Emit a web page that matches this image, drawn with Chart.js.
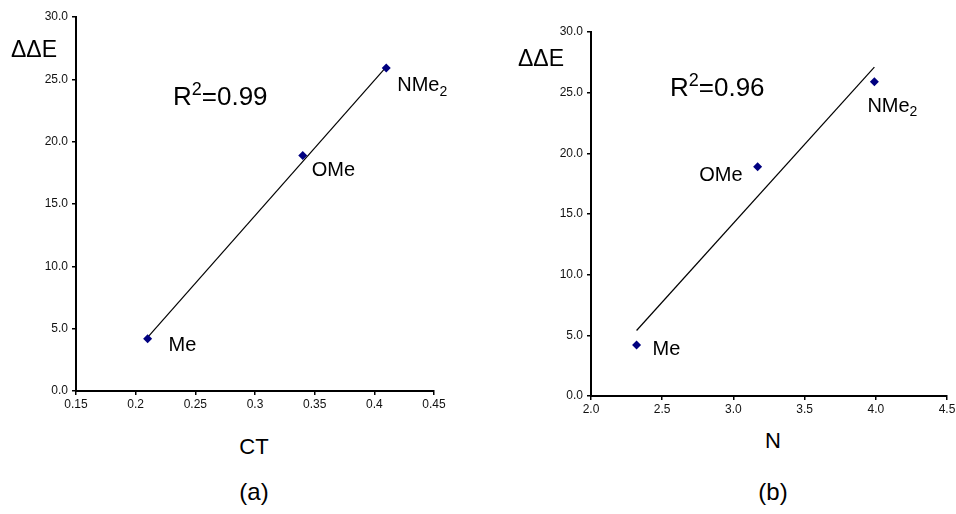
<!DOCTYPE html>
<html>
<head>
<meta charset="utf-8">
<script src="https://cdn.jsdelivr.net/npm/chart.js@4.4.1/dist/chart.umd.min.js"></script>
<style>
  body { margin: 0; background: #fff; width: 956px; height: 514px; position: relative; overflow: hidden; font-family: "Liberation Sans", Arial, sans-serif; }
  .box { position: absolute; }
  .cap { position: absolute; color: #000; transform: translate(-50%, -50%); white-space: nowrap; }
</style>
</head>
<body>
<div class="box" style="left:0;top:0;width:460px;height:420px"><canvas id="chartA"></canvas></div>
<div class="box" style="left:480px;top:0;width:476px;height:420px"><canvas id="chartB"></canvas></div>
<div class="cap" style="left:254px;top:447px;font-size:22px">CT</div>
<div class="cap" style="left:254px;top:492px;font-size:24px">(a)</div>
<div class="cap" style="left:773px;top:441px;font-size:22px">N</div>
<div class="cap" style="left:773px;top:492px;font-size:24px">(b)</div>
<script>
// data
const groups = ['Me', 'OMe', 'NMe2'];
const ctValues = [0.21, 0.34, 0.41];
const nValues = [2.32, 3.17, 3.99];
const ddE = [4.2, 18.9, 25.9];

// trend lines (end points)
const fitAx = [0.21, 0.41];
const fitAy = [4.3, 26.0];
const fitBx = [2.32, 3.99];
const fitBy = [5.4, 27.1];

const r2A = '0.99';
const r2B = '0.96';

// tick labels
const yTicks = [0, 5, 10, 15, 20, 25, 30];
const yTickLabels = ['0.0', '5.0', '10.0', '15.0', '20.0', '25.0', '30.0'];
const xTicksA = [0.15, 0.2, 0.25, 0.3, 0.35, 0.4, 0.45];
const xTickLabelsA = ['0.15', '0.2', '0.25', '0.3', '0.35', '0.4', '0.45'];
const xTicksB = [2.0, 2.5, 3.0, 3.5, 4.0, 4.5];
const xTickLabelsB = ['2.0', '2.5', '3.0', '3.5', '4.0', '4.5'];

const FONT = '"Liberation Sans", Arial, sans-serif';

function drawSub(ctx, x, y, main, sub, size, up) {
    ctx.font = size + 'px ' + FONT;
    ctx.fillText(main, x, y);
    let w = ctx.measureText(main).width;
    ctx.font = Math.round(size * 0.68) + 'px ' + FONT;
    ctx.fillText(sub, x + w, up ? y - size * 0.38 : y + size * 0.22);
    return w + ctx.measureText(sub).width;
}

function makeChart(id, xs, fitX, fitY, xTicks, xLabels, xMin, xMax, opts) {
    const labelPlugin = {
        id: 'labels' + id,
        afterDatasetsDraw(chart) {
            const ctx = chart.ctx;
            const sx = chart.scales.x, sy = chart.scales.y;
            ctx.save();
            ctx.fillStyle = '#000';
            ctx.textBaseline = 'alphabetic';
            groups.forEach((g, i) => {
                const px = sx.getPixelForValue(xs[i]);
                const py = sy.getPixelForValue(ddE[i]);
                const off = opts.offsets[i];
                ctx.font = '20px ' + FONT;
                let x = px + off[0];
                if (g === 'NMe2') {
                    ctx.textAlign = 'left';
                    drawSub(ctx, x, py + off[1], 'NMe', '2', 20, false);
                } else {
                    ctx.textAlign = off[2] || 'left';
                    ctx.fillText(g, x, py + off[1]);
                }
            });
            ctx.textAlign = 'left';
            // R^2 text
            let w = drawSub(ctx, opts.r2Pos[0], opts.r2Pos[1], 'R', '2', 26, true);
            ctx.font = '26px ' + FONT;
            ctx.fillText('=' + opts.r2, opts.r2Pos[0] + w, opts.r2Pos[1]);
            // axis title
            ctx.font = '23px ' + FONT;
            ctx.fillText('\u0394\u0394E', opts.yTitlePos[0], opts.yTitlePos[1]);
            ctx.restore();
        }
    };

    const axisCommon = {
        type: 'linear',
        grid: { display: true, drawOnChartArea: false, drawTicks: true, tickLength: 4, color: '#000', lineWidth: 1.5 },
        border: { display: true, color: '#000', width: 2 }
    };

    return new Chart(document.getElementById(id), {
        type: 'scatter',
        data: {
            datasets: [{
                data: xs.map((x, i) => ({ x: x, y: ddE[i] })),
                pointStyle: 'rectRot',
                pointRadius: 4.5,
                pointBackgroundColor: '#000080',
                pointBorderColor: '#000080',
                pointBorderWidth: 0
            }, {
                type: 'line',
                data: fitX.map((x, i) => ({ x: x, y: fitY[i] })),
                borderColor: '#000',
                borderWidth: 1.2,
                pointRadius: 0,
                fill: false
            }]
        },
        options: {
            responsive: true,
            maintainAspectRatio: false,
            animation: false,
            events: [],
            layout: { padding: opts.padding },
            plugins: { legend: { display: false }, tooltip: { enabled: false } },
            scales: {
                x: Object.assign({}, axisCommon, {
                    min: xMin, max: xMax,
                    afterBuildTicks(s) { s.ticks = xTicks.map(v => ({ value: v })); },
                    afterFit(s) { s.height = opts.xHeight; s.paddingLeft = 0; s.paddingRight = 0; },
                    ticks: {
                        autoSkip: false, maxRotation: 0, padding: 2, color: '#111',
                        font: { family: FONT, size: 12 },
                        callback: (v, i) => xLabels[i]
                    }
                }),
                y: Object.assign({}, axisCommon, {
                    min: 0, max: 30,
                    afterBuildTicks(s) { s.ticks = yTicks.map(v => ({ value: v })); },
                    afterFit(s) { s.width = opts.yWidth; s.paddingTop = 0; s.paddingBottom = 0; },
                    ticks: {
                        autoSkip: false, padding: 4, color: '#111',
                        font: { family: FONT, size: 12 },
                        callback: (v, i) => yTickLabels[i]
                    }
                })
            }
        },
        plugins: [labelPlugin]
    });
}

makeChart('chartA', ctValues, fitAx, fitAy, xTicksA, xTickLabelsA, 0.15, 0.45, {
    padding: { left: 0, top: 17, right: 26, bottom: 0 },
    yWidth: 76, xHeight: 29,
    offsets: [[21, 12], [9, 21], [11, 23]],
    r2: r2A, r2Pos: [173, 105],
    yTitlePos: [11, 57]
});

makeChart('chartB', nValues, fitBx, fitBy, xTicksB, xTickLabelsB, 2.0, 4.5, {
    padding: { left: 0, top: 32, right: 9, bottom: 0 },
    yWidth: 111, xHeight: 24,
    offsets: [[16, 10], [-15, 14, 'right'], [-7, 30]],
    r2: r2B, r2Pos: [190, 96],
    yTitlePos: [38, 66]
});
</script>
</body>
</html>
